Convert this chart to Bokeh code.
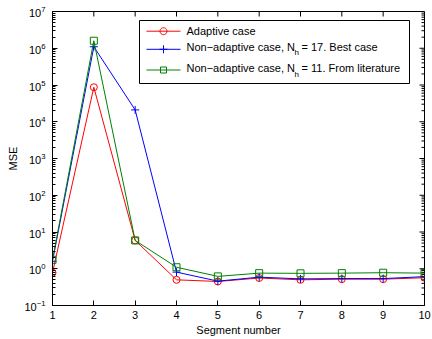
import math

from bokeh.plotting import figure
from bokeh.models import (FixedTicker, Range1d, BoxAnnotation, Label, PolyAnnotation)
from bokeh.embed import file_html
from bokeh.resources import INLINE

# ---- data -------------------------------------------------------------
segments = [1, 2, 3, 4, 5, 6, 7, 8, 9, 10]
adaptive = [0.78, 8.7e4, 5.9, 0.50, 0.45, 0.56, 0.50, 0.52, 0.52, 0.57]
nonadaptive_best = [1.6, 1.1e6, 2.1e4, 0.81, 0.46, 0.59, 0.53, 0.54, 0.54, 0.61]
nonadaptive_lit = [1.75, 1.6e6, 5.9, 1.1, 0.62, 0.76, 0.75, 0.76, 0.78, 0.76]

x_ticks = segments
y_ticks = [10.0 ** k for k in range(-1, 8)]
y_minor = [m * 10.0 ** k for k in range(-1, 7) for m in range(2, 10)]

legend_main = ["Adaptive case", "Non\u2212adaptive case, N", "Non\u2212adaptive case, N"]
legend_tail = ["", "= 17. Best case", "= 11. From literature"]
legend_sub = ["", "h", "h"]

# ---- layout -----------------------------------------------------------
W, H = 432, 339
LEFT, RIGHT, TOP, BOTTOM = 52, 8, 11, 34
FW, FH = W - LEFT - RIGHT, H - TOP - BOTTOM
FONT = "Liberation Sans"
MAJOR_LEN, MINOR_LEN = 5, 3

p = figure(width=W, height=H, y_axis_type="log",
           x_range=Range1d(1, 10), y_range=Range1d(1e-1, 1e7),
           output_backend="svg", toolbar_location=None,
           min_border_left=LEFT, min_border_right=RIGHT,
           min_border_top=TOP, min_border_bottom=BOTTOM,
           background_fill_color="white", border_fill_color="white")
p.grid.visible = False
p.outline_line_color = "black"
p.outline_line_width = 1

for ax in (p.xaxis[0], p.yaxis[0]):
    ax.axis_line_color = "black"
    ax.major_tick_line_color = "black"
    ax.minor_tick_line_color = "black"
    ax.major_tick_in = MAJOR_LEN
    ax.major_tick_out = 0
    ax.minor_tick_in = MINOR_LEN
    ax.minor_tick_out = 0
    ax.major_label_text_font = FONT
    ax.major_label_text_font_size = "11px"
    ax.major_label_text_color = "black"
    ax.axis_label_text_font = FONT
    ax.axis_label_text_font_size = "11px"
    ax.axis_label_text_font_style = "normal"
    ax.axis_label_text_color = "black"

xa = p.xaxis[0]
xa.ticker = FixedTicker(ticks=x_ticks, minor_ticks=[])
xa.major_label_standoff = 5
xa.axis_label = "Segment number"
xa.axis_label_standoff = 2

ya = p.yaxis[0]
ya.ticker = FixedTicker(ticks=y_ticks, minor_ticks=y_minor)
ya.major_label_standoff = 7
ya.axis_label = "MSE"
ya.axis_label_standoff = 2


def poly(xs, ys, color, xu="screen", yu="screen"):
    p.add_layout(PolyAnnotation(xs=xs, ys=ys, xs_units=xu, ys_units=yu,
                                fill_alpha=0, line_color=color, line_width=1,
                                line_alpha=1.0))


# mirrored inward ticks on the top and right edges of the box
for t in x_ticks:
    poly([t, t], [FH, FH - MAJOR_LEN], "black", xu="data", yu="screen")
for t in y_ticks:
    poly([FW, FW - MAJOR_LEN], [t, t], "black", xu="screen", yu="data")
for t in y_minor:
    poly([FW, FW - MINOR_LEN], [t, t], "black", xu="screen", yu="data")

# ---- series -----------------------------------------------------------
p.line(segments, adaptive, line_color="#ff0000", line_width=1)
p.scatter(segments, adaptive, marker="circle", size=7,
          fill_color=None, line_color="#ff0000", line_width=1)

p.line(segments, nonadaptive_best, line_color="#0000ff", line_width=1)
p.scatter(segments, nonadaptive_best, marker="cross", size=8,
          line_color="#0000ff", line_width=1)

p.line(segments, nonadaptive_lit, line_color="#008000", line_width=1)
p.scatter(segments, nonadaptive_lit, marker="square", size=7,
          fill_color=None, line_color="#008000", line_width=1)

# ---- legend (frame-relative screen units, y measured from frame bottom) --
FB = H - BOTTOM


def sx(px):
    return px - LEFT


def sy(py):
    return FB - py


p.add_layout(BoxAnnotation(left=sx(139), right=sx(409), top=sy(20), bottom=sy(83),
                           left_units="screen", right_units="screen",
                           top_units="screen", bottom_units="screen",
                           fill_color="white", fill_alpha=1.0,
                           line_color="black", line_width=1, line_alpha=1.0))

row_line_y = [30.7, 48.8, 69.5]
row_text_y = [30.0, 46.0, 67.5]
colors = ["#ff0000", "#0000ff", "#008000"]
markers = ["circle", "cross", "square"]
mx = 163

for i in range(3):
    ly = row_line_y[i]
    c = colors[i]
    poly([sx(146), sx(180)], [sy(ly), sy(ly)], c)
    if markers[i] == "circle":
        n = 24
        poly([sx(mx + 3.5 * math.cos(2 * math.pi * k / n)) for k in range(n)],
             [sy(ly + 3.5 * math.sin(2 * math.pi * k / n)) for k in range(n)], c)
    elif markers[i] == "cross":
        poly([sx(mx - 4), sx(mx + 4)], [sy(ly), sy(ly)], c)
        poly([sx(mx), sx(mx)], [sy(ly - 4), sy(ly + 4)], c)
    else:
        poly([sx(mx - 3), sx(mx + 3), sx(mx + 3), sx(mx - 3)],
             [sy(ly - 3), sy(ly - 3), sy(ly + 3), sy(ly + 3)], c)

    ty = row_text_y[i]
    p.add_layout(Label(x=sx(186), y=sy(ty), x_units="screen", y_units="screen",
                       text=legend_main[i], text_font=FONT, text_font_size="11px",
                       text_baseline="middle", text_align="left", text_color="black"))
    if legend_sub[i]:
        p.add_layout(Label(x=sx(294), y=sy(ty + 6), x_units="screen", y_units="screen",
                           text=legend_sub[i], text_font=FONT, text_font_size="8px",
                           text_baseline="middle", text_align="left", text_color="black"))
        p.add_layout(Label(x=sx(301), y=sy(ty), x_units="screen", y_units="screen",
                           text=legend_tail[i], text_font=FONT, text_font_size="11px",
                           text_baseline="middle", text_align="left", text_color="black"))

open("out.html", "w").write(file_html(p, INLINE))
